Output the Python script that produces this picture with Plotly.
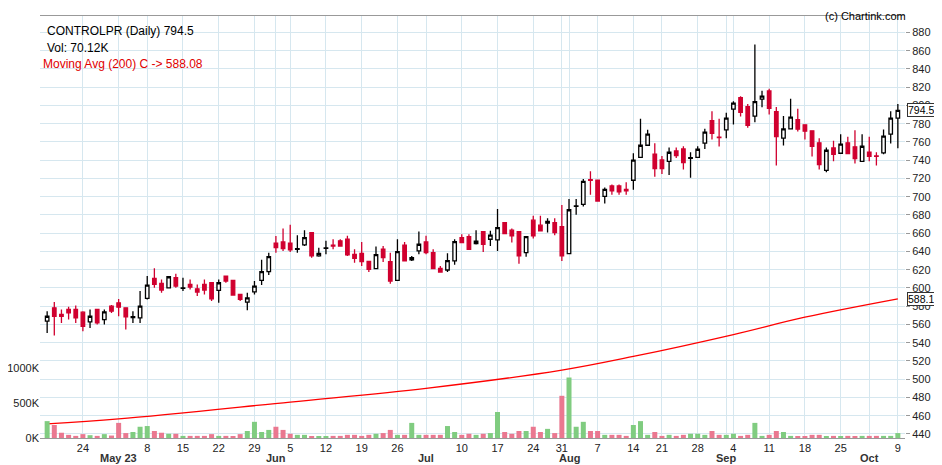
import plotly.graph_objects as go

# OHLC, one row per trading day (oldest first)
opens = [563.6, 578.2, 570.9, 576.4, 576.4, 573.5, 562.8, 576.4, 565.4, 580.0,
         583.7, 578.2, 567.5, 567.2, 588.5, 610.5, 605.0, 600.2, 611.2, 599.5,
         603.9, 599.1, 603.9, 605.7, 597.3, 613.0, 608.3, 592.9, 584.5, 595.8,
         608.3, 617.8, 649.0, 650.5, 649.0, 642.2, 647.2, 660.7, 635.1, 643.5,
         646.8, 651.6, 653.4, 636.9, 638.0, 629.2, 621.1, 642.4, 628.8, 608.3,
         646.8, 630.7, 640.6, 650.5, 638.7, 621.5, 619.7, 629.6, 655.2, 656.3,
         648.6, 661.8, 653.4, 652.7, 671.7, 663.3, 661.8, 638.7, 674.3, 668.8,
         671.0, 671.7, 667.3, 637.6, 689.3, 691.5, 718.6, 718.0, 700.3, 711.7,
         711.7, 708.0, 718.0, 743.2, 756.4, 746.5, 740.3, 738.8, 750.2, 752.4,
         742.1, 743.2, 758.6, 783.2, 765.2, 773.3, 796.0, 808.5, 798.6, 788.3,
         807.0, 815.8, 793.1, 764.1, 774.4, 784.3, 778.8, 772.2, 759.0, 728.9,
         753.5, 747.6, 759.0, 754.6, 738.8, 748.7, 744.7, 748.0, 768.5, 786.1]
highs = [574.6, 584.5, 576.4, 579.3, 580.8, 574.6, 576.4, 576.4, 576.4, 581.2,
         588.0, 578.2, 574.6, 596.6, 613.0, 621.5, 609.4, 612.3, 615.6, 611.2,
         609.4, 603.9, 609.4, 605.7, 609.4, 613.0, 608.3, 592.9, 594.7, 607.6,
         631.0, 638.7, 657.0, 665.1, 669.2, 657.8, 663.3, 660.7, 644.2, 651.6,
         653.4, 653.4, 657.1, 642.4, 650.5, 629.2, 645.3, 646.0, 638.7, 653.4,
         650.5, 635.1, 661.8, 657.1, 642.4, 624.1, 638.0, 653.4, 658.9, 658.9,
         663.3, 661.8, 662.6, 686.4, 671.7, 665.1, 661.8, 656.3, 679.1, 679.1,
         676.5, 676.5, 690.8, 697.4, 697.4, 719.4, 727.8, 718.0, 710.2, 713.5,
         713.5, 715.7, 747.6, 785.4, 773.3, 758.6, 744.7, 753.9, 753.9, 755.3,
         748.7, 755.3, 774.4, 793.5, 785.4, 791.9, 804.5, 810.0, 801.5, 866.8,
         816.2, 818.4, 798.2, 788.3, 807.4, 796.4, 778.8, 772.2, 764.1, 753.9,
         761.2, 768.5, 765.6, 772.9, 768.5, 765.6, 748.7, 773.7, 793.5, 801.5]
lows = [550.7, 547.8, 561.7, 565.4, 561.7, 552.6, 556.2, 559.9, 559.9, 572.7,
        569.0, 554.4, 561.7, 561.7, 587.4, 600.2, 594.7, 600.2, 600.2, 596.6,
        598.4, 591.1, 592.9, 585.6, 583.7, 605.7, 592.2, 585.6, 575.7, 592.9,
        603.2, 614.2, 638.7, 640.6, 639.5, 638.7, 646.0, 633.2, 634.3, 636.9,
        642.4, 645.3, 635.1, 627.7, 624.0, 617.5, 621.1, 628.4, 604.6, 608.3,
        629.6, 629.6, 636.9, 636.9, 620.4, 616.8, 617.5, 625.5, 649.0, 642.4,
        647.5, 639.5, 646.0, 640.6, 658.9, 649.7, 626.6, 634.3, 654.1, 661.8,
        660.7, 657.8, 629.6, 637.6, 680.2, 689.3, 702.2, 695.2, 692.6, 702.2,
        702.2, 702.2, 707.6, 743.2, 756.4, 721.9, 724.8, 723.8, 742.5, 729.7,
        720.8, 743.2, 752.4, 762.7, 755.0, 764.1, 779.2, 788.0, 775.5, 781.7,
        797.9, 790.2, 734.1, 756.0, 774.4, 771.5, 762.7, 744.0, 729.7, 726.7,
        738.8, 747.6, 747.3, 736.3, 738.8, 738.8, 734.1, 746.5, 758.2, 753.1]
closes = [569.0, 569.0, 569.0, 572.7, 567.2, 558.0, 569.0, 561.7, 573.8, 574.6,
          579.0, 568.3, 568.5, 580.0, 603.2, 603.9, 597.7, 612.3, 602.1, 600.0,
          601.0, 595.5, 597.7, 588.1, 605.7, 607.6, 592.2, 587.4, 589.2, 602.0,
          617.8, 634.3, 644.2, 643.1, 641.7, 643.0, 655.2, 635.1, 638.0, 643.9,
          646.0, 646.0, 636.2, 632.5, 628.8, 620.4, 636.5, 633.2, 607.6, 639.8,
          629.6, 633.2, 647.9, 638.7, 621.1, 617.5, 629.9, 650.8, 649.7, 642.4,
          651.2, 647.9, 657.8, 666.2, 659.6, 657.1, 635.1, 656.3, 657.1, 662.6,
          672.8, 660.7, 635.1, 685.7, 689.9, 716.8, 718.0, 695.2, 708.0, 706.5,
          705.4, 706.5, 740.0, 756.4, 768.5, 730.8, 730.8, 748.7, 745.0, 737.4,
          742.9, 752.0, 770.7, 769.3, 764.8, 786.1, 802.6, 792.4, 778.1, 804.1,
          810.3, 796.8, 765.9, 774.4, 787.2, 774.0, 771.8, 755.3, 735.2, 750.9,
          746.5, 757.5, 747.3, 741.8, 755.3, 744.3, 744.3, 766.3, 786.1, 794.5]
# volume in thousands
volumes = [240, 185, 75, 45, 30, 55, 40, 30, 55, 35,
           215, 70, 85, 160, 170, 100, 75, 60, 60, 30,
           30, 30, 30, 55, 30, 30, 20, 55, 100, 230,
           85, 115, 160, 115, 60, 45, 45, 20, 20, 20,
           30, 30, 45, 45, 30, 45, 60, 70, 115, 45,
           45, 215, 45, 45, 45, 45, 170, 85, 45, 60,
           45, 60, 70, 370, 85, 60, 100, 100, 160, 85,
           130, 70, 600, 860, 160, 230, 100, 100, 45, 45,
           45, 30, 185, 240, 45, 85, 30, 45, 30, 45,
           60, 60, 45, 100, 45, 45, 60, 30, 45, 215,
           30, 45, 100, 85, 30, 20, 20, 45, 45, 20,
           30, 20, 30, 20, 30, 30, 30, 30, 30, 70]
# 200-day moving average, sampled at a few days
ma_days = [0, 10, 34, 53, 72, 82, 96, 106, 119]
ma_vals = [451.0, 456.5, 475.0, 490.0, 510.0, 525.0, 549.0, 568.0, 588.1]

day_pos = [5, 14, 19, 24, 29, 34, 39, 44, 49, 58, 63, 68, 72,
           77, 82, 86, 91, 96, 101, 106, 111, 119]
day_text = ["24", "8", "15", "22", "29", "5", "12", "19", "26", "10", "17", "24", "31",
            "7", "14", "21", "28", "4", "11", "18", "25", "9"]
month_pos = [10, 32, 53, 73, 95, 115]
month_text = ["May 23", "Jun", "Jul", "Aug", "Sep", "Oct"]

x = list(range(len(closes)))
up = [c >= o for o, c in zip(opens, closes)]

fig = go.Figure()

fig.add_trace(go.Bar(x=x, y=volumes, yaxis="y2", width=0.7,
                     marker=dict(color=["#80cc80" if u else "#ea7890" for u in up], line_width=0),
                     hoverinfo="skip"))

up_idx = [i for i in x if up[i]]
dn_idx = [i for i in x if not up[i]]
fig.add_trace(go.Candlestick(
    x=up_idx,
    open=[opens[i] for i in up_idx], high=[highs[i] for i in up_idx],
    low=[lows[i] for i in up_idx], close=[closes[i] for i in up_idx],
    increasing=dict(line=dict(color="black", width=1.3), fillcolor="white"),
    decreasing=dict(line=dict(color="black", width=1.3), fillcolor="white"),
    whiskerwidth=0, yaxis="y"))
fig.add_trace(go.Candlestick(
    x=dn_idx,
    open=[opens[i] for i in dn_idx], high=[highs[i] for i in dn_idx],
    low=[lows[i] for i in dn_idx], close=[closes[i] for i in dn_idx],
    increasing=dict(line=dict(color="#d0002f", width=1.3), fillcolor="#d0002f"),
    decreasing=dict(line=dict(color="#d0002f", width=1.3), fillcolor="#d0002f"),
    whiskerwidth=0, yaxis="y"))

fig.add_trace(go.Scatter(x=ma_days, y=ma_vals, mode="lines", line=dict(color="#ff0000", width=1.3, shape="spline"),
                         yaxis="y"))

grid = "#d6e7ef"
fig.update_layout(
    width=934, height=457,
    margin=dict(l=32, r=37, t=8, b=27, autoexpand=False),
    paper_bgcolor="white", plot_bgcolor="white",
    showlegend=False,
    font=dict(family="Liberation Sans, Arial, sans-serif", size=11, color="#222"),
    xaxis=dict(range=[-1, 120], tickvals=day_pos + month_pos, ticktext=day_text + [""] * len(month_pos),
               showgrid=True, gridcolor=grid,
               rangeslider=dict(visible=False), tickfont=dict(size=11), ticks="", zeroline=False,
               tickangle=0, automargin=False, showline=True, linecolor="#999", mirror=True),
    yaxis=dict(side="right", range=[435.6, 898], dtick=20, tick0=440, showgrid=True, gridcolor=grid,
               ticks="outside", ticklen=4, tickcolor="#999", zeroline=False, automargin=False,
               tickfont=dict(size=11)),
    yaxis2=dict(overlaying="y", side="left", range=[0, 6000], tickvals=[0, 500, 1000],
                ticktext=["0K", "500K", "1000K"], showgrid=False, zeroline=False, automargin=False,
                ticks="", tickfont=dict(size=11)),
    bargap=0.3,
)

for p, t in zip(month_pos, month_text):
    fig.add_annotation(text=f"<b>{t}</b>", x=p, xref="x", yref="paper", y=-0.028, yanchor="top",
                       showarrow=False, font=dict(size=11, color="#333"))

fig.add_annotation(text="CONTROLPR (Daily) 794.5", xref="paper", yref="paper", x=0.006, y=0.985,
                   xanchor="left", yanchor="top", showarrow=False, font=dict(size=12, color="black"))
fig.add_annotation(text="Vol: 70.12K", xref="paper", yref="paper", x=0.006, y=0.945,
                   xanchor="left", yanchor="top", showarrow=False, font=dict(size=12, color="black"))
fig.add_annotation(text="Moving Avg (200) C -> 588.08", xref="paper", yref="paper", x=0.001, y=0.908,
                   xanchor="left", yanchor="top", showarrow=False, font=dict(size=12, color="#e00000"))
fig.add_annotation(text="(c) Chartink.com", xref="paper", yref="paper", x=1.004, y=1.02,
                   xanchor="right", yanchor="top", showarrow=False, font=dict(size=11, color="black"))
for v in [closes[-1], ma_vals[-1]]:
    fig.add_annotation(text=f"{v:.1f}", xref="paper", yref="y", x=1.002, y=v, xanchor="left",
                       showarrow=False, bgcolor="white", bordercolor="#333", borderwidth=1, borderpad=0,
                       font=dict(size=10.5, color="black"))

fig.write_html("out.html")
